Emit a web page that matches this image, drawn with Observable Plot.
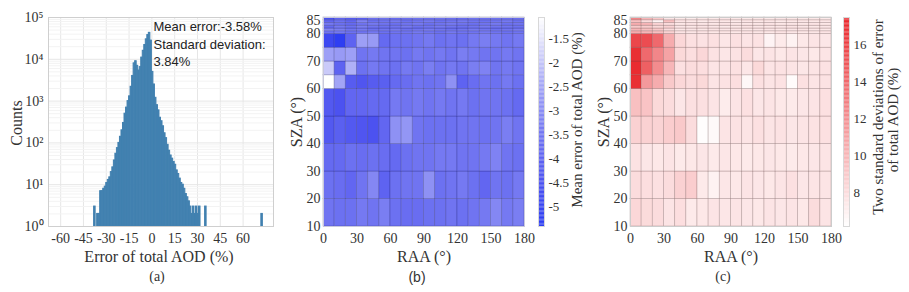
<!DOCTYPE html>
<html><head><meta charset="utf-8">
<script src="https://cdn.jsdelivr.net/npm/d3@7"></script>
<script src="https://cdn.jsdelivr.net/npm/@observablehq/plot@0.6"></script>
<style>
body{margin:0;background:#fff;}
#root{position:relative;width:909px;height:292px;overflow:hidden;font-family:"Liberation Serif",serif;color:#333;}
#root svg{position:absolute;top:0;}
.lbl{position:absolute;white-space:nowrap;transform:translate(-50%,-50%);line-height:1;}
.rot{transform:translate(-50%,-50%) rotate(-90deg);}
</style></head><body><div id="root"></div>
<script>
// ---------- Panel (a): histogram of error of total AOD ----------
const histBinLo = [-38,-37,-36,-35,-34,-33,-32,-31,-30,-29,-28,-27,-26,-25,-24,-23,-22,-21,-20,-19,-18,-17,-16,-15,-14,-13,-12,-11,-10,-9,-8,-7,-6,-5,-4,-3,-2,-1,0,1,2,3,4,5,6,7,8,9,10,11,12,13,14,15,16,17,18,19,20,21,22,23,24,25,26,27,28,29,30,31,32,33,34,35,72];
const histCounts = [3,0,2,2,7,7,8,9,11,13,15,20,26,38,55,75,100,140,200,300,500,700,1000,1300,2200,4000,8000,9000,7000,5400,6500,11000,16000,22000,30000,38000,43000,28000,5000,2500,1200,800,600,400,330,250,170,130,90,65,50,42,35,30,22,18,14,11,10,8,6,5,4,3,2,3,2,3,2,3,0,0,0,3,2];
const histBinWidth = 1;
const errorTicks = [-60,-45,-30,-15,0,15,30,45,60];
const countTicks = [1,10,100,1000,10000,100000];
const countTickLabels = ["10⁰","10¹","10²","10³","10⁴","10⁵"];
const annotationLines = ["Mean error:-3.58%","Standard deviation:","3.84%"];

// ---------- Panels (b), (c): heatmaps over RAA x SZA ----------
const raaEdges = [0,10,20,30,40,50,60,70,80,90,100,110,120,130,140,150,160,170,180];
const szaEdges = [10,20,30,40,50,60,65,70,75,80,81,82,83,84,85,86];
const raaTicks = [0,30,60,90,120,150,180];
const szaTicks = [10,20,30,40,50,60,70,80,85];
// rows from bottom (SZA 10-20) to top (SZA 85-86)
const meanErrorRows = [
 [-3.5,-3.6,-3.6,-3.4,-3.5,-3.3,-3.6,-3.7,-3.7,-3.6,-3.6,-3.5,-3.6,-3.5,-3.4,-3.1,-3.4,-3.3],
 [-3.6,-3.7,-3.9,-3.5,-3.1,-4.0,-3.6,-3.5,-3.5,-2.9,-3.6,-3.5,-3.4,-3.6,-3.9,-3.5,-3.6,-3.4],
 [-3.8,-3.8,-3.6,-3.7,-3.6,-3.7,-3.8,-3.6,-3.5,-3.5,-3.4,-3.4,-3.5,-3.5,-3.4,-3.2,-3.5,-3.6],
 [-4.3,-4.1,-4.3,-4.4,-4.5,-3.9,-2.9,-2.8,-3.5,-3.6,-3.6,-3.6,-3.5,-3.5,-3.6,-3.5,-3.3,-3.5],
 [-4.3,-4.5,-3.9,-3.9,-3.8,-3.8,-3.4,-3.5,-3.4,-3.5,-3.4,-3.5,-3.4,-3.6,-3.5,-3.5,-3.6,-3.8],
 [-1.05,-2.5,-4.2,-4.4,-4.2,-4.1,-3.8,-3.7,-3.5,-3.6,-3.5,-2.9,-4.0,-3.7,-3.5,-3.6,-3.4,-3.6],
 [-1.9,-4.0,-2.3,-3.6,-3.4,-3.5,-3.6,-3.4,-3.5,-3.3,-3.5,-3.4,-3.5,-3.3,-3.2,-3.5,-3.4,-3.5],
 [-2.6,-2.7,-2.6,-3.5,-3.4,-3.5,-3.5,-3.6,-3.4,-3.5,-3.4,-3.5,-3.3,-3.4,-3.5,-3.5,-3.4,-3.5],
 [-4.9,-5.3,-4.0,-2.6,-2.7,-3.8,-3.6,-3.6,-3.5,-3.4,-3.6,-3.5,-3.6,-3.4,-3.3,-3.4,-3.5,-3.4],
 [-3.5,-3.4,-3.6,-3.5,-3.4,-3.6,-3.5,-3.5,-3.4,-3.5,-3.6,-3.4,-3.5,-3.5,-3.4,-3.5,-3.6,-3.5],
 [-3.2,-3.3,-3.5,-3.4,-3.6,-3.5,-3.4,-3.6,-3.5,-3.4,-3.5,-3.6,-3.5,-3.4,-3.5,-3.6,-3.5,-3.4],
 [-3.8,-3.4,-3.6,-3.3,-3.5,-3.6,-3.5,-3.4,-3.6,-3.5,-3.4,-3.5,-3.6,-3.5,-3.4,-3.5,-3.5,-3.6],
 [-3.4,-3.6,-3.8,-3.5,-3.4,-3.5,-3.6,-3.5,-3.4,-3.6,-3.5,-3.4,-3.5,-3.6,-3.5,-3.4,-3.6,-3.5],
 [-3.9,-3.6,-3.9,-3.2,-3.6,-3.5,-3.4,-3.6,-3.5,-3.4,-3.6,-3.5,-3.4,-3.5,-3.6,-3.5,-3.4,-3.6],
 [-4.6,-4.0,-4.3,-4.2,-3.7,-3.6,-3.8,-3.7,-3.6,-3.7,-3.6,-3.7,-3.8,-3.6,-3.7,-3.6,-3.7,-3.7]
];
const twoStdRows = [
 [8.3,8.1,8.0,7.6,7.9,7.3,7.4,7.6,7.5,7.6,7.5,7.4,7.6,7.5,7.6,7.4,8.0,7.6],
 [8.0,7.9,7.8,8.0,8.6,8.8,7.3,6.9,7.5,7.4,7.6,7.5,7.4,7.6,7.8,7.5,7.6,7.6],
 [7.7,7.5,7.4,7.6,7.3,7.4,7.5,7.3,7.5,7.4,7.3,7.4,7.5,7.4,7.3,7.4,7.5,7.6],
 [8.6,8.6,8.5,8.8,9.0,8.0,6.3,6.5,7.6,7.7,7.6,7.8,7.6,7.7,7.5,7.6,7.7,7.8],
 [9.5,9.3,8.2,8.0,7.5,7.8,7.8,7.6,7.2,7.6,7.8,7.5,7.6,7.4,7.3,7.5,7.6,7.8],
 [17.0,11.5,10.5,9.0,8.3,8.0,8.2,7.6,7.7,7.9,6.6,7.8,7.6,7.7,6.4,7.8,7.6,7.7],
 [17.2,14.5,12.2,10.0,7.8,8.0,7.9,7.6,7.6,7.8,7.5,8.2,7.6,7.7,7.6,7.5,7.6,7.7],
 [17.0,14.0,12.5,11.0,8.2,7.9,8.3,7.7,7.5,7.7,8.0,7.5,7.6,7.4,7.6,7.5,7.4,7.6],
 [15.8,15.5,14.0,10.5,8.3,7.8,7.7,7.8,7.5,7.8,7.6,7.7,6.8,7.3,6.9,7.4,7.6,7.5],
 [10.5,10.0,9.5,8.5,7.6,7.5,7.6,7.4,7.5,7.4,7.6,7.5,7.4,7.6,7.5,7.4,7.5,7.6],
 [10.0,9.5,9.0,8.0,7.4,7.5,7.4,7.6,7.5,7.6,7.4,7.5,7.5,7.4,7.5,7.6,7.5,7.4],
 [9.0,8.8,8.2,8.5,7.5,7.4,7.6,7.5,7.3,7.4,7.6,7.5,7.4,7.5,7.6,7.5,7.4,7.5],
 [10.5,10.0,8.5,8.0,7.4,7.6,7.5,7.4,7.6,7.5,7.4,7.5,7.6,7.4,7.5,7.4,7.6,7.4],
 [9.5,8.0,6.8,9.5,7.6,7.4,7.3,7.5,7.4,7.3,7.5,7.4,7.5,7.3,7.4,7.5,7.4,7.5],
 [12.5,10.0,9.0,7.5,7.3,7.2,7.4,7.3,7.5,7.4,7.3,7.4,7.3,7.5,7.4,7.3,7.4,7.3]
];
const meanErrorDomain = [-5.4,-1.05];
const meanErrorTicks = [-5,-4.5,-4,-3.5,-3,-2.5,-2,-1.5];
const twoStdDomain = [6.2,17.5];
const twoStdTicks = [8,10,12,14,16];

// ---------- helpers ----------
const root = document.getElementById("root");
const serif = '"Liberation Serif", "Times New Roman", serif';
const sans = '"Liberation Sans", Arial, sans-serif';
const fmt = d => String(d);
function place(svg, left){ svg.style.left = left + "px"; root.appendChild(svg); }
function label(text, x, y, size, opts={}){
  const d = document.createElement("div");
  d.className = "lbl" + (opts.rot ? " rot" : "");
  d.textContent = text;
  d.style.left = x + "px"; d.style.top = y + "px";
  d.style.fontSize = size + "px";
  d.style.fontFamily = opts.font || serif;
  root.appendChild(d);
}
const baseStyle = {fontFamily: serif, fontSize: "14px", background: "transparent", color: "#333", overflow: "visible"};

const meanColor = {type: "linear", domain: [-5.4,-4.5,-3.5,-2.5,-1.5,-1.05],
  range: ["#2a3cf2","#4c52f0","#7074f1","#a2a4f6","#e4e4fb","#ffffff"]};
const stdColor = {type: "linear", domain: twoStdDomain, range: ["#ffffff","#e8262b"]};

function cells(rows){
  const out = [];
  rows.forEach((row, j) => row.forEach((v, i) => out.push({
    x1: raaEdges[i], x2: raaEdges[i+1], y1: szaEdges[j], y2: szaEdges[j+1], v})));
  return out;
}

// ---------- (a) ----------
const hist = histBinLo.map((lo, i) => ({x1: lo, x2: lo + histBinWidth, count: histCounts[i]})).filter(d => d.count > 0);
const minorCounts = [];
countTicks.slice(0, -1).forEach(t => { for (let k = 2; k < 10; k++) minorCounts.push(t * k); });

place(Plot.plot({
  width: 300, height: 292, marginLeft: 48, marginRight: 27, marginTop: 17, marginBottom: 66,
  style: baseStyle,
  x: {domain: [-68, 80]},
  y: {type: "log", domain: [1, 1e5]},
  marks: [
    Plot.gridX(errorTicks, {stroke: "#e6e6e6", strokeOpacity: 1}),
    Plot.gridY(minorCounts, {stroke: "#f3f3f3", strokeOpacity: 1}),
    Plot.gridY(countTicks, {stroke: "#e6e6e6", strokeOpacity: 1}),
    Plot.rect(hist, {x1: "x1", x2: "x2", y1: 1, y2: "count", fill: "#4281b0",
      stroke: "#4281b0", strokeWidth: 1}),
    Plot.frame({stroke: "#cfcfcf"}),
    Plot.axisX(errorTicks, {tickSize: 0, tickPadding: 7, label: null, tickFormat: fmt, fontSize: 14}),
    Plot.axisY(countTicks, {tickSize: 0, tickPadding: 5, label: null, fontSize: 14,
      tickFormat: d => countTickLabels[countTicks.indexOf(d)]}),
    Plot.text([annotationLines.join("\n")], {frameAnchor: "top-left", dx: 105, dy: 1, textAnchor: "start",
      lineAnchor: "top", lineHeight: 1.35, fontFamily: sans, fontSize: 13, fill: "#222"})
  ]
}), 0);
label("Counts", 17, 123, 16, {rot: true});
label("Error of total AOD (%)", 159, 257, 16);
label("(a)", 157, 277, 14);

// ---------- heatmap factory ----------
function heatmap(rows, color, gridStroke, frameStroke){
  return Plot.plot({
    width: 240, height: 292, marginLeft: 33, marginRight: 6, marginTop: 17, marginBottom: 66,
    style: baseStyle,
    x: {domain: [0, 180]},
    y: {domain: [10, 86]},
    color,
    marks: [
      Plot.rect(cells(rows), {x1: "x1", x2: "x2", y1: "y1", y2: "y2", fill: "v",
        stroke: gridStroke, strokeOpacity: 0.28, strokeWidth: 0.8}),
      Plot.frame({stroke: frameStroke}),
      Plot.axisX(raaTicks, {tickSize: 0, tickPadding: 7, label: null, tickFormat: fmt, fontSize: 14}),
      Plot.axisY(szaTicks, {tickSize: 0, tickPadding: 3, label: null, tickFormat: fmt, fontSize: 14})
    ]
  });
}
function colorbar(domain, ticks, color){
  const n = 160, step = (domain[1] - domain[0]) / n;
  const slices = d3.range(n).map(i => ({a: domain[0] + i * step, b: domain[0] + (i + 1) * step}));
  return Plot.plot({
    width: 70, height: 292, marginLeft: 8, marginRight: 56, marginTop: 17, marginBottom: 66,
    style: baseStyle,
    x: {domain: [0, 1], axis: null},
    y: {domain},
    color,
    marks: [
      Plot.rect(slices, {x1: 0, x2: 1, y1: "a", y2: "b", fill: d => (d.a + d.b) / 2}),
      Plot.frame({stroke: "#d8d8d8"}),
      Plot.axisY(ticks, {anchor: "right", tickSize: 0, tickPadding: 4, label: null, tickFormat: fmt, fontSize: 13})
    ]
  });
}

// ---------- (b) ----------
place(heatmap(meanErrorRows, meanColor, "#1a1a60", "#c9c9dc"), 290);
place(colorbar(meanErrorDomain, meanErrorTicks, meanColor), 530);
label("SZA (°)", 297, 122, 16, {rot: true});
label("RAA (°)", 424, 257, 16);
label("(b)", 417, 277, 14, {font: sans});
label("Mean error of total AOD (%)", 577, 120, 15, {rot: true});

// ---------- (c) ----------
place(heatmap(twoStdRows, stdColor, "#604040", "#cccccc"), 597);
place(colorbar(twoStdDomain, twoStdTicks, stdColor), 835);
label("SZA (°)", 604, 122, 16, {rot: true});
label("RAA (°)", 731, 257, 16);
label("(c)", 723, 277, 14);
label("Two standard deviations of error", 878, 117, 15, {rot: true});
label("of total AOD (%)", 893, 120, 15, {rot: true});
</script></body></html>
